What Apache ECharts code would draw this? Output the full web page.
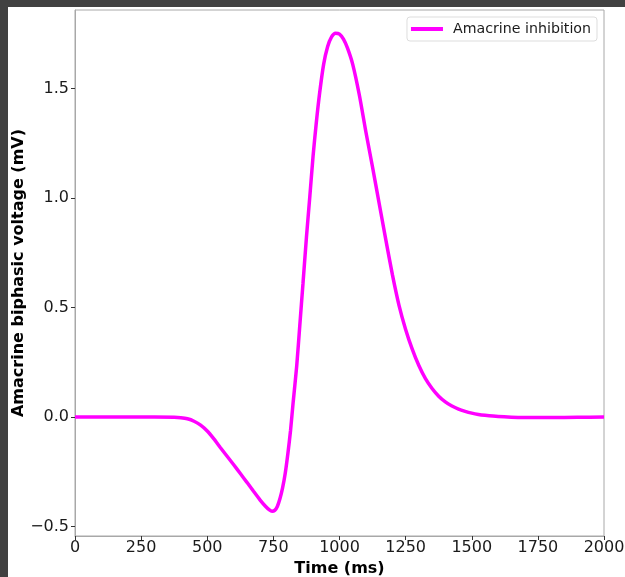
<!DOCTYPE html>
<html>
<head>
<meta charset="utf-8">
<script src="https://cdn.jsdelivr.net/npm/echarts@6/dist/echarts.min.js"></script>
<style>
  html, body { margin: 0; padding: 0; width: 625px; height: 577px; background: #414141; overflow: hidden; }
  #chart { position: absolute; left: 8px; top: 7px; width: 617px; height: 570px; background: #ffffff; }
</style>
</head>
<body>
<div id="chart"></div>
<script>
// Time (ms)
const times = [0, 100, 200, 300, 375, 400, 425, 450, 475, 500, 525, 550, 575, 600, 625, 650, 675, 700, 720, 735, 745, 755, 765, 775, 785, 795, 805, 815, 825, 838, 850, 862, 875, 888, 900, 912, 925, 940, 955, 970, 985, 1000, 1015, 1030, 1050, 1075, 1100, 1125, 1150, 1175, 1200, 1225, 1250, 1275, 1300, 1325, 1350, 1375, 1400, 1425, 1450, 1475, 1500, 1525, 1550, 1600, 1650, 1700, 1750, 1800, 1900, 2000];
// Amacrine biphasic voltage (mV)
const voltage = [0, 0, 0, 0, -0.001, -0.003, -0.008, -0.019, -0.037, -0.064, -0.100, -0.140, -0.179, -0.218, -0.258, -0.298, -0.339, -0.379, -0.407, -0.424, -0.430, -0.426, -0.408, -0.372, -0.322, -0.255, -0.165, -0.060, 0.070, 0.230, 0.420, 0.610, 0.820, 1.010, 1.190, 1.340, 1.480, 1.610, 1.690, 1.735, 1.752, 1.748, 1.725, 1.685, 1.610, 1.470, 1.300, 1.140, 0.975, 0.810, 0.650, 0.510, 0.400, 0.310, 0.235, 0.175, 0.130, 0.095, 0.069, 0.050, 0.036, 0.026, 0.018, 0.012, 0.008, 0.002, -0.001, -0.002, -0.002, -0.002, -0.001, 0];
const xTicks = [0, 250, 500, 750, 1000, 1250, 1500, 1750, 2000];
const yTicks = [-0.5, 0, 0.5, 1.0, 1.5];
const seriesName = 'Amacrine inhibition';

const chart = echarts.init(document.getElementById('chart'), null, { renderer: 'canvas' });
const font = 'DejaVu Sans';
chart.setOption({
  animation: false,
  backgroundColor: '#ffffff',
  grid: { left: 67, right: 21, top: 3, bottom: 41, containLabel: false, outerBoundsMode: 'none', show: true, borderColor: '#a8a8a8', borderWidth: 1, backgroundColor: 'transparent' },
  legend: {
    right: 28, top: 10,
    data: [seriesName],
    icon: 'rect', itemWidth: 32, itemHeight: 4,
    padding: [5, 6, 5, 4],
    borderColor: '#dddddd', borderWidth: 1, borderRadius: 3,
    backgroundColor: '#ffffff',
    textStyle: { fontFamily: font, fontSize: 14.2, color: '#1a1a1a', padding: [0, 0, 0, 5] }
  },
  xAxis: {
    type: 'value', min: 0, max: 2000, interval: 250,
    name: 'Time (ms)', nameLocation: 'middle', nameGap: 25, nameMoveOverlap: false,
    nameTextStyle: { fontFamily: font, fontSize: 16, fontWeight: 'bold', color: '#000' },
    axisLine: { show: true, onZero: false, lineStyle: { color: '#a8a8a8', width: 1 } },
    axisTick: { show: true, length: 4, customValues: xTicks, lineStyle: { color: '#333' } },
    axisLabel: { fontFamily: font, fontSize: 16, color: '#1a1a1a', margin: 4, customValues: xTicks, formatter: v => String(v) },
    splitLine: { show: false }
  },
  yAxis: {
    type: 'value', min: -0.543, max: 1.858,
    name: 'Amacrine biphasic voltage (mV)', nameLocation: 'middle', nameGap: 48, nameMoveOverlap: false,
    nameTextStyle: { fontFamily: font, fontSize: 16, fontWeight: 'bold', color: '#000' },
    axisLine: { show: true, onZero: false, lineStyle: { color: '#a8a8a8', width: 1 } },
    axisTick: { show: true, length: 4, customValues: yTicks, lineStyle: { color: '#333' } },
    axisLabel: {
      fontFamily: font, fontSize: 16, color: '#1a1a1a', margin: 6,
      customValues: yTicks,
      formatter: v => v.toFixed(1).replace('-', '\u2212')
    },
    splitLine: { show: false }
  },
  series: [{
    name: seriesName,
    type: 'line',
    data: times.map((t, i) => [t, voltage[i]]),
    smooth: 0.25,
    showSymbol: false,
    lineStyle: { color: '#ff00ff', width: 3.5 },
    itemStyle: { color: '#ff00ff' }
  }]
});
</script>
</body>
</html>
